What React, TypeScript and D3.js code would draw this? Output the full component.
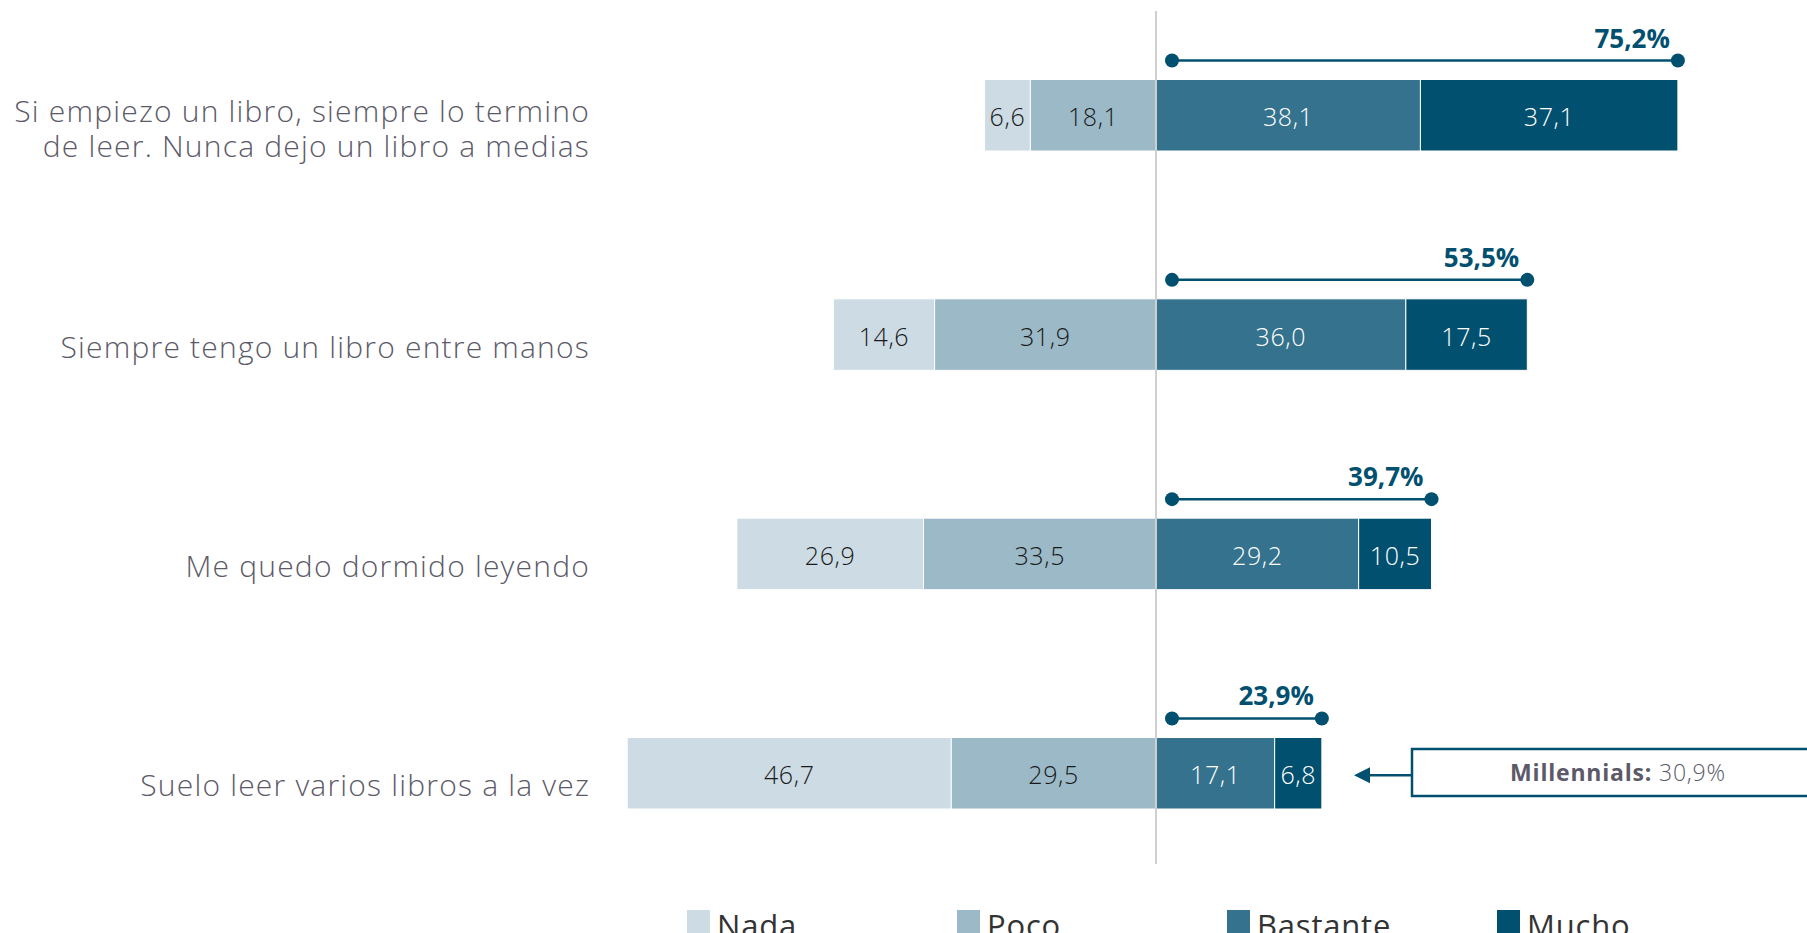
import React from "react";
import * as d3 from "d3";

const categories: string[][] = [
  ["Si empiezo un libro, siempre lo termino", "de leer. Nunca dejo un libro a medias"],
  ["Siempre tengo un libro entre manos"],
  ["Me quedo dormido leyendo"],
  ["Suelo leer varios libros a la vez"],
];
const seriesNames = ["Nada", "Poco", "Bastante", "Mucho"];
const nada = [6.6, 14.6, 26.9, 46.7];
const poco = [18.1, 31.9, 33.5, 29.5];
const bastante = [38.1, 36.0, 29.2, 17.1];
const mucho = [37.1, 17.5, 10.5, 6.8];
const totals = ["75,2%", "53,5%", "39,7%", "23,9%"];
const millennialsLabel = "Millennials:";
const millennialsValue = "30,9%";

const colors = ["#cddce4", "#9bb9c7", "#35728d", "#02506f"];
const textColors = ["#1a1a1a", "#1a1a1a", "#ffffff", "#ffffff"];
const dark = "#02506f";
const gray = "#5c5a68";
const FONT = "'Open Sans', 'Noto Sans', sans-serif";

const fmt = (v: number) => v.toFixed(1).replace(".", ",");

export default function App() {
  const W = 1807;
  const H = 933;
  const x = d3.scaleLinear().domain([-85, 85]).range([1156 - 85 * 6.94, 1156 + 85 * 6.94]);
  const keys = categories.map((_, i) => String(i));
  const y = d3.scaleBand().domain(keys).range([79.5, 809]).paddingInner(0.674).paddingOuter(0);
  const bw = y.bandwidth();

  const rows = keys.map((k, i) => {
    const vals = [nada[i], poco[i], bastante[i], mucho[i]];
    const starts = [-(nada[i] + poco[i]), -poco[i], 0, bastante[i]];
    return { k, i, vals, starts };
  });

  const legendX = [687, 957, 1227, 1497];
  const last = rows[rows.length - 1];
  const lastY = (y(last.k) as number) + bw / 2;

  return (
    <svg width={W} height={H} style={{ position: "absolute", left: 0, top: 0, background: "#fff" }} fontFamily={FONT}>
      {rows.map((r) => {
        const y0 = y(r.k) as number;
        const cy = y0 + bw / 2;
        const total = bastante[r.i] + mucho[r.i];
        const by = y0 - 19;
        return (
          <g key={r.k}>
            {r.vals.map((v, j) => (
              <g key={j}>
                <rect
                  x={x(r.starts[j])}
                  y={y0}
                  width={x(r.starts[j] + v) - x(r.starts[j])}
                  height={bw}
                  fill={colors[j]}
                  stroke="#fff"
                  strokeWidth={1}
                />
                <text
                  x={(x(r.starts[j]) + x(r.starts[j] + v)) / 2}
                  y={cy + 1}
                  textAnchor="middle"
                  dominantBaseline="central"
                  fontSize={25}
                  fontWeight={300}
                  letterSpacing={0.6}
                  fill={textColors[j]}
                >
                  {fmt(v)}
                </text>
              </g>
            ))}
            <line x1={x(0) + 16} x2={x(total)} y1={by} y2={by} stroke={dark} strokeWidth={2.5} />
            <circle cx={x(0) + 16} cy={by} r={7} fill={dark} />
            <circle cx={x(total)} cy={by} r={7} fill={dark} />
            <text x={x(total) - 8} y={by - 13} textAnchor="end" fontSize={26} fontWeight={700} fill={dark}>
              {totals[r.i]}
            </text>
            {categories[r.i].map((line, li) => {
              const n = categories[r.i].length;
              const base = n === 1 ? cy + 23 : cy + 7 + li * 34.6;
              return (
                <text key={li} x={590} y={base} textAnchor="end" fontSize={30} fontWeight={300} letterSpacing={1.2} fill={gray}>
                  {line}
                </text>
              );
            })}
          </g>
        );
      })}
      <line x1={x(0)} x2={x(0)} y1={11} y2={864} stroke="#cfcfcf" strokeWidth={2} />

      {/* Millennials callout */}
      <line x1={1412} x2={1368} y1={lastY + 2} y2={lastY + 2} stroke={dark} strokeWidth={2.5} />
      <path d={`M1354,${lastY + 2} L1370,${lastY - 6} L1370,${lastY + 10} Z`} fill={dark} />
      <rect x={1412} y={749} width={430} height={47} fill="#fff" stroke={dark} strokeWidth={2.5} />
      <text x={1618} y={781} textAnchor="middle" fontSize={23} letterSpacing={0.8} fill={gray}>
        <tspan fontWeight={700}>{millennialsLabel}</tspan>
        <tspan fontWeight={300}> {millennialsValue}</tspan>
      </text>

      {/* Legend */}
      {seriesNames.map((s, j) => (
        <g key={s}>
          <rect x={legendX[j]} y={910} width={23} height={23} fill={colors[j]} />
          <text x={legendX[j] + 30} y={937} fontSize={31} fontWeight={400} letterSpacing={0.8} fill="#333">
            {s}
          </text>
        </g>
      ))}
    </svg>
  );
}
